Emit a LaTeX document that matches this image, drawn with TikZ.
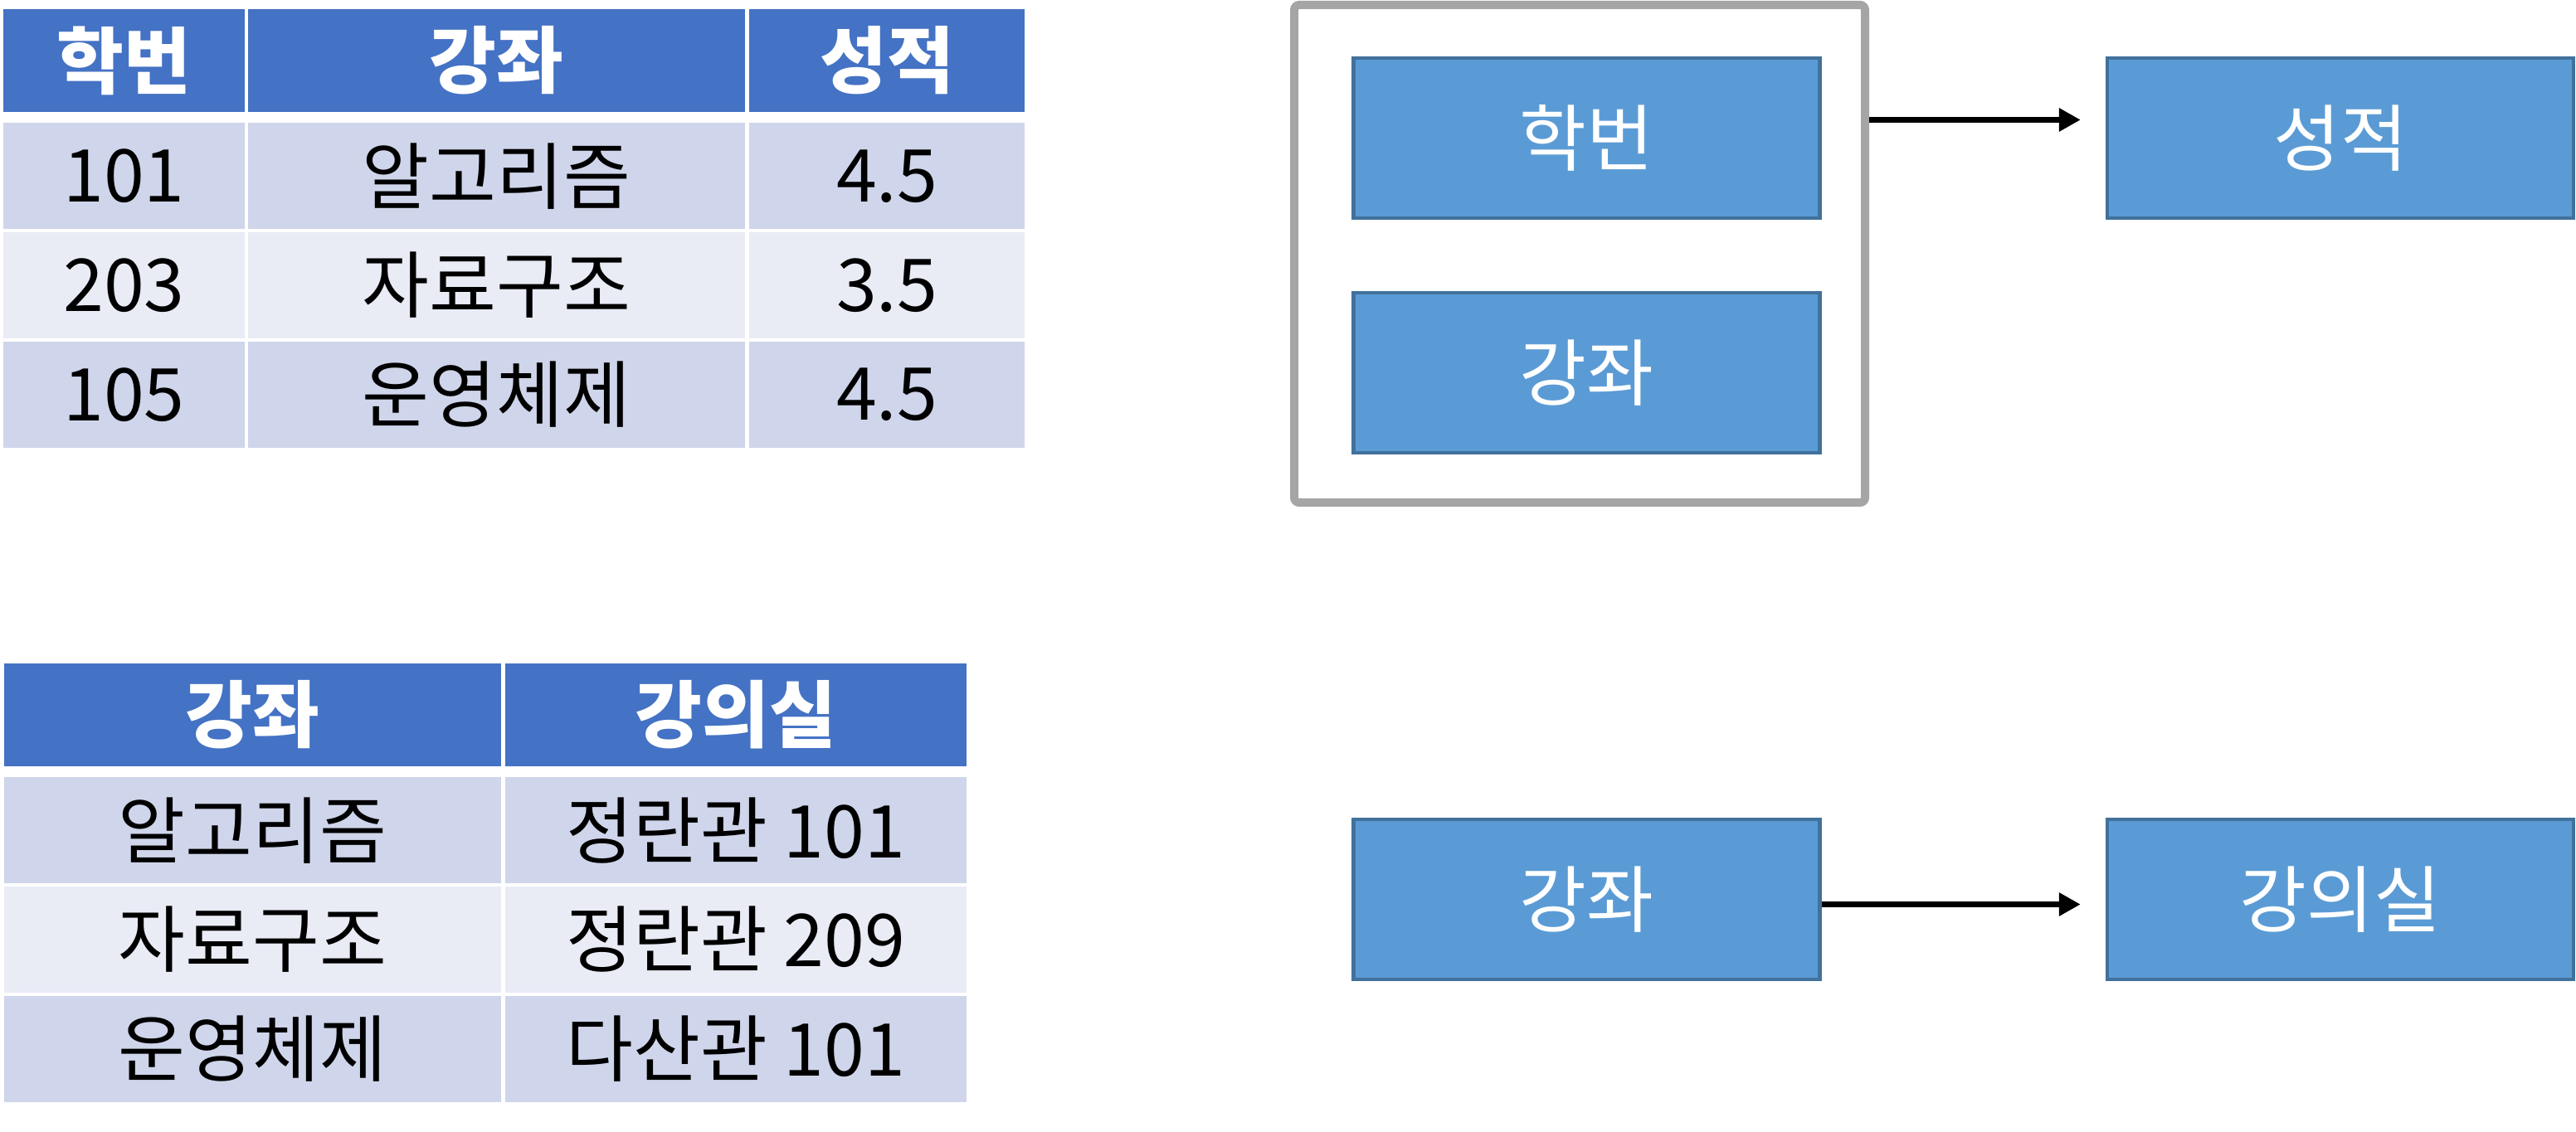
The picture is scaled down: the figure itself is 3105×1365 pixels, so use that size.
\documentclass[tikz,border=0pt]{standalone}
\usepackage{fontspec}
\setmainfont{Noto Sans CJK KR}
\usetikzlibrary{positioning}
\usetikzlibrary{arrows.meta}
\usetikzlibrary{calc}
\definecolor{hdrblue}{HTML}{4472C4}
\definecolor{rowdark}{HTML}{CFD5EA}
\definecolor{rowlight}{HTML}{E9EBF5}
\definecolor{boxfill}{HTML}{5B9BD5}
\definecolor{boxline}{HTML}{41719C}
\definecolor{framegray}{HTML}{A5A5A5}
\tikzset{
    cell/.style = {rectangle, inner sep=0pt, outer sep=0pt, minimum height=12.8mm},
    hcell/.style = {cell, fill=hdrblue, text=white, font=\bfseries, minimum height=12.4mm},
    dcell/.style = {cell, fill=rowdark},
    lcell/.style = {cell, fill=rowlight},
    cola/.style = {minimum width=29.1mm},
    colb/.style = {minimum width=59.9mm},
    colc/.style = {minimum width=33.2mm},
    cold/.style = {minimum width=59.9mm},
    cole/.style = {minimum width=55.6mm},
    attr/.style = {rectangle, line width=0.45mm, draw=boxline, fill=boxfill, text=white, minimum width=56.2mm, minimum height=19.3mm},
    grpframe/.style = {rectangle, line width=1mm, draw=framegray, rounded corners=0.6mm, minimum width=68.8mm, minimum height=60mm},
    flow/.style = {-{Triangle[length=2.6mm,width=2.7mm]}, line width=0.7mm, shorten >=3mm}, % dependency
    every picture/.style={font issue=\fontsize{25}{30}},
    font issue/.style={execute at begin picture={#1\selectfont}
  }
}
\begin{document}
\begin{tikzpicture}[x=0.1mm,y=-0.1mm]
\useasboundingbox (0,0) rectangle (3105,1365);
%
\node[hcell,cola] at (149.5,73) (t1h1) {학번};
\node[hcell,colb] at (598.5,73) (t1h2) {강좌};
\node[hcell,colc] at (1069,73) (t1h3) {성적};
\node[dcell,cola] at (149.5,212.5) (t1a1) {101};
\node[dcell,colb] at (598.5,212.5) (t1a2) {알고리즘};
\node[dcell,colc] at (1069,212.5) (t1a3) {4.5};
\node[lcell,cola] at (149.5,344) (t1b1) {203};
\node[lcell,colb] at (598.5,344) (t1b2) {자료구조};
\node[lcell,colc] at (1069,344) (t1b3) {3.5};
\node[dcell,cola] at (149.5,476) (t1c1) {105};
\node[dcell,colb] at (598.5,476) (t1c2) {운영체제};
\node[dcell,colc] at (1069,476) (t1c3) {4.5};
%
\node[hcell,cold] at (304.5,862) (t2h1) {강좌};
\node[hcell,cole] at (887,862) (t2h2) {강의실};
\node[dcell,cold] at (304.5,1001.5) (t2a1) {알고리즘};
\node[dcell,cole] at (887,1001.5) (t2a2) {정란관 101};
\node[lcell,cold] at (304.5,1133) (t2b1) {자료구조};
\node[lcell,cole] at (887,1133) (t2b2) {정란관 209};
\node[dcell,cold] at (304.5,1265) (t2c1) {운영체제};
\node[dcell,cole] at (887,1265) (t2c2) {다산관 101};
%
\node[grpframe] at (1904,306) (grp) {};
\node[attr] at (1912.5,166.5) (hak) {학번};
\node[attr] at (1912.5,449.5) (gang) {강좌};
\node[attr] at (2821,166.5) (seong) {성적};
\node[attr] at (1912.5,1084.5) (gang2) {강좌};
\node[attr] at (2821,1084.5) (sil) {강의실};
%
\draw[flow] ($(grp.east |- hak)+(0,-22)$) -- ($(seong.west)+(0,-22)$);
\draw[flow] ($(gang2.east)+(0,6)$) -- ($(sil.west)+(0,6)$);

\end{tikzpicture}
\end{document}
